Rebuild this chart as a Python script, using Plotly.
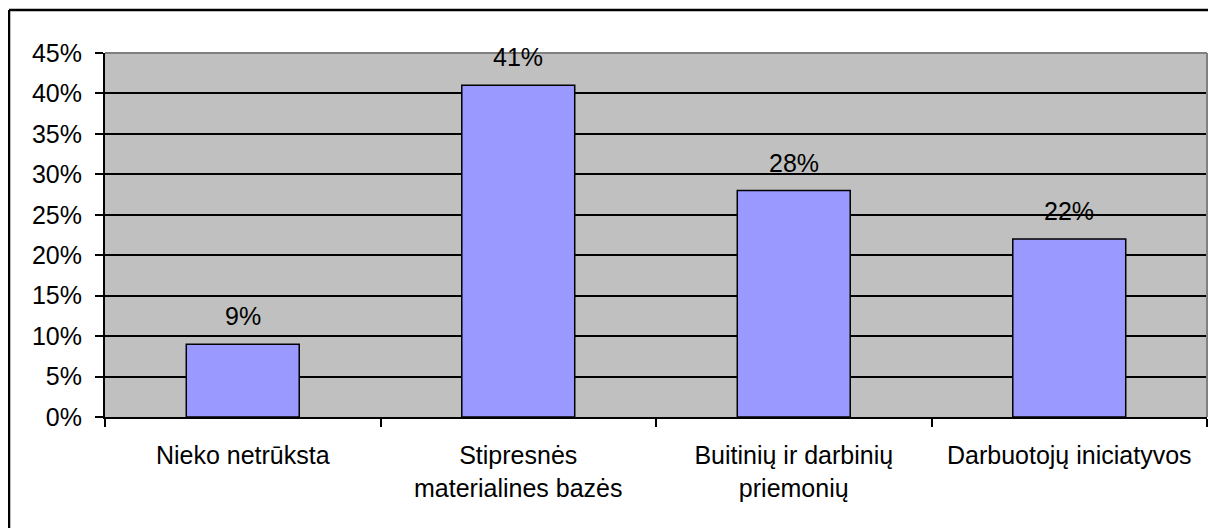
import plotly.graph_objects as go

# Chart data
categories = ["Nieko netrūksta", "Stipresnės<br>materialines bazės",
              "Buitinių ir darbinių<br>priemonių", "Darbuotojų iniciatyvos"]
values = [9, 41, 28, 22]
y_ticks = [0, 5, 10, 15, 20, 25, 30, 35, 40, 45]
y_tick_labels = [f"{v}%" for v in y_ticks]

font_family = "Liberation Sans, Arial, sans-serif"
font_size = 25

bar_trace = go.Bar(
    x=categories, y=values,
    marker=dict(color="#9999FF", line=dict(color="black", width=1.5)),
    width=0.41,
    hoverinfo="none",
)

fig = go.Figure(data=[bar_trace])

# value labels above the bars
for cat, val in zip(categories, values):
    fig.add_annotation(
        x=cat, y=val, text=f"{val}%", showarrow=False,
        yanchor="bottom", yshift=12,
        font=dict(family=font_family, size=font_size, color="black"),
    )

# gray border on top/right of plot area
fig.add_shape(type="line", xref="paper", yref="paper", x0=0, x1=1, y0=1, y1=1,
              line=dict(color="#808080", width=2), layer="above")
fig.add_shape(type="line", xref="paper", yref="paper", x0=1, x1=1, y0=0, y1=1,
              line=dict(color="#808080", width=2), layer="above")

# outer chart frame (only the left and top edges are visible)
fig.add_shape(type="line", xref="paper", yref="paper", x0=-0.0871, x1=1.05, y0=1.118, y1=1.118,
              line=dict(color="black", width=2.5))
fig.add_shape(type="line", xref="paper", yref="paper", x0=-0.0871, x1=-0.0871, y0=-0.5, y1=1.118,
              line=dict(color="black", width=2.5))

# the page body adds an 8px offset, so the figure is 8px smaller
fig.update_layout(
    width=1208, height=520,
    margin=dict(l=97, r=9, t=45, b=111),
    paper_bgcolor="white",
    plot_bgcolor="#C0C0C0",
    showlegend=False,
    font=dict(family=font_family, size=font_size, color="black"),
    bargap=0.59,
    xaxis=dict(
        showgrid=False, showline=True, linecolor="black", linewidth=2,
        ticks="outside", tickson="boundaries", ticklen=8, tickcolor="black", tickwidth=2,
        ticklabelstandoff=15,
        tickfont=dict(size=font_size),
    ),
    yaxis=dict(
        range=[0, 45], tickvals=y_ticks, ticktext=y_tick_labels,
        showgrid=True, gridcolor="black", gridwidth=1.5, zeroline=False,
        showline=True, linecolor="black", linewidth=2,
        ticks="outside", ticklen=8, tickcolor="black", tickwidth=2,
        ticklabelstandoff=8,
        tickfont=dict(size=font_size),
    ),
)

fig.write_html("out.html")
